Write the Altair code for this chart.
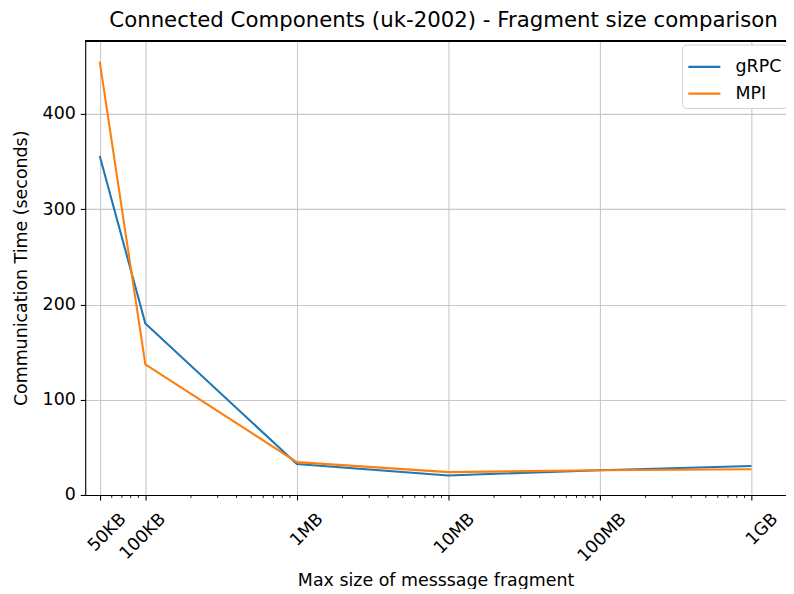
import altair as alt
import pandas as pd

# ---- data ----
sizes_kb = [50, 100, 1000, 10000, 100000, 1000000]
size_labels = ["50KB", "100KB", "1MB", "10MB", "100MB", "1GB"]
grpc = [356, 180, 32.5, 20.5, 26, 30.5]
mpi = [455, 137, 34.5, 24, 26, 27]
series_names = ["gRPC", "MPI"]
series_colors = ["#1f77b4", "#ff7f0e"]
y_ticks = [0, 100, 200, 300, 400]

rows = []
for name, vals in zip(series_names, [grpc, mpi]):
    for s, v in zip(sizes_kb, vals):
        rows.append({"size": s, "time": v, "series": name})
df = pd.DataFrame(rows)

# minor ticks for the log axis (2..9 x 10^k)
minor = []
for k in range(1, 7):
    for m in range(2, 10):
        v = m * 10 ** k
        if 40 < v < 1.69e6 and v not in sizes_kb:
            minor.append(v)
minor_df = pd.DataFrame({"size": minor})

W, H = 708, 459
FONT = "DejaVu Sans"
FS = 17.6

label_expr = "".join(
    f"datum.value == {v} ? '{l}' : " for v, l in zip(sizes_kb, size_labels)
) + "''"

xscale = alt.Scale(type="log", domain=[40.1, 1.69e6], nice=False)
yscale = alt.Scale(domain=[0, 477], nice=False, zero=False)

lines = alt.Chart(df).mark_line(strokeWidth=2.1, clip=True).encode(
    x=alt.X(
        "size:Q",
        scale=xscale,
        title="Max size of messsage fragment",
        axis=alt.Axis(
            values=sizes_kb,
            labelExpr=label_expr,
            labelAngle=315,
            labelAlign="right",
            labelBaseline="top",
            labelPadding=10,
            labelOffset={
                "condition": [
                    {"test": "length(datum.label) == 3", "value": 11},
                    {"test": "length(datum.label) == 4", "value": 14},
                ],
                "value": 17,
            },
            labelFontSize=FS,
            labelColor="#000000",
            labelFont=FONT,
            tickSize=5,
            tickColor="#000000",
            tickWidth=1.1,
            grid=True,
            gridColor="#c8c8c8",
            gridWidth=1.1,
            domain=True,
            domainColor="#000000",
            domainWidth=1.1,
            titleFontSize=FS,
            titleFontWeight="normal",
            titleFont=FONT,
            titleColor="#000000",
            titleY=91,
            titleBaseline="alphabetic",
            labelOverlap=False,
            labelFlush=False,
        ),
    ),
    y=alt.Y(
        "time:Q",
        scale=yscale,
        title="Communication Time (seconds)",
        axis=alt.Axis(
            values=y_ticks,
            labelFontSize=FS,
            labelColor="#000000",
            labelFont=FONT,
            labelPadding=5,
            tickSize=5,
            tickColor="#000000",
            tickWidth=1.1,
            grid=True,
            gridColor="#c8c8c8",
            gridWidth=1.1,
            domain=True,
            domainColor="#000000",
            domainWidth=1.1,
            titleFontSize=FS,
            titleFontWeight="normal",
            titleFont=FONT,
            titleColor="#000000",
            titleX=-55,
            titleBaseline="bottom",
            labelFlush=False,
        ),
    ),
    color=alt.Color(
        "series:N",
        scale=alt.Scale(domain=series_names, range=series_colors),
        legend=alt.Legend(
            title=None,
            orient="none",
            legendX=603,
            legendY=4,
            symbolType="stroke",
            symbolSize=1050,
            symbolStrokeWidth=2.1,
            labelFontSize=FS,
            labelFont=FONT,
            labelColor="#000000",
            fillColor="#ffffff",
            strokeColor="#d0d0d0",
            cornerRadius=4,
            padding=5,
            rowPadding=-1,
            labelOffset=14,
        ),
    ),
)

minor_ticks = alt.Chart(minor_df).mark_rule(color="#000000", strokeWidth=0.9).encode(
    x=alt.X("size:Q", scale=xscale),
    y=alt.value(H),
    y2=alt.value(H + 3),
)

# top spine (frame edge)
top_spine = alt.Chart(minor_df).mark_rule(color="#000000", strokeWidth=1.1).encode(
    x=alt.value(0),
    x2=alt.value(W),
    y=alt.value(0),
)

chart = (
    alt.layer(lines, minor_ticks, top_spine)
    .properties(
        width=W,
        height=H,
        title=alt.TitleParams(
            "Connected Components (uk-2002) - Fragment size comparison",
            fontSize=21.5,
            font=FONT,
            fontWeight="normal",
            color="#000000",
            anchor="middle",
            frame="group",
            offset=9,
            dx=8,
        ),
        autosize=alt.AutoSizeParams(type="none"),
        padding={"left": 78, "top": 30, "right": 0, "bottom": 92},
    )
    .configure_view(stroke="#000000", strokeWidth=1.1)
    .configure(background="#ffffff")
)

chart.save("out.html", embed_options={"renderer": "svg", "actions": False})
